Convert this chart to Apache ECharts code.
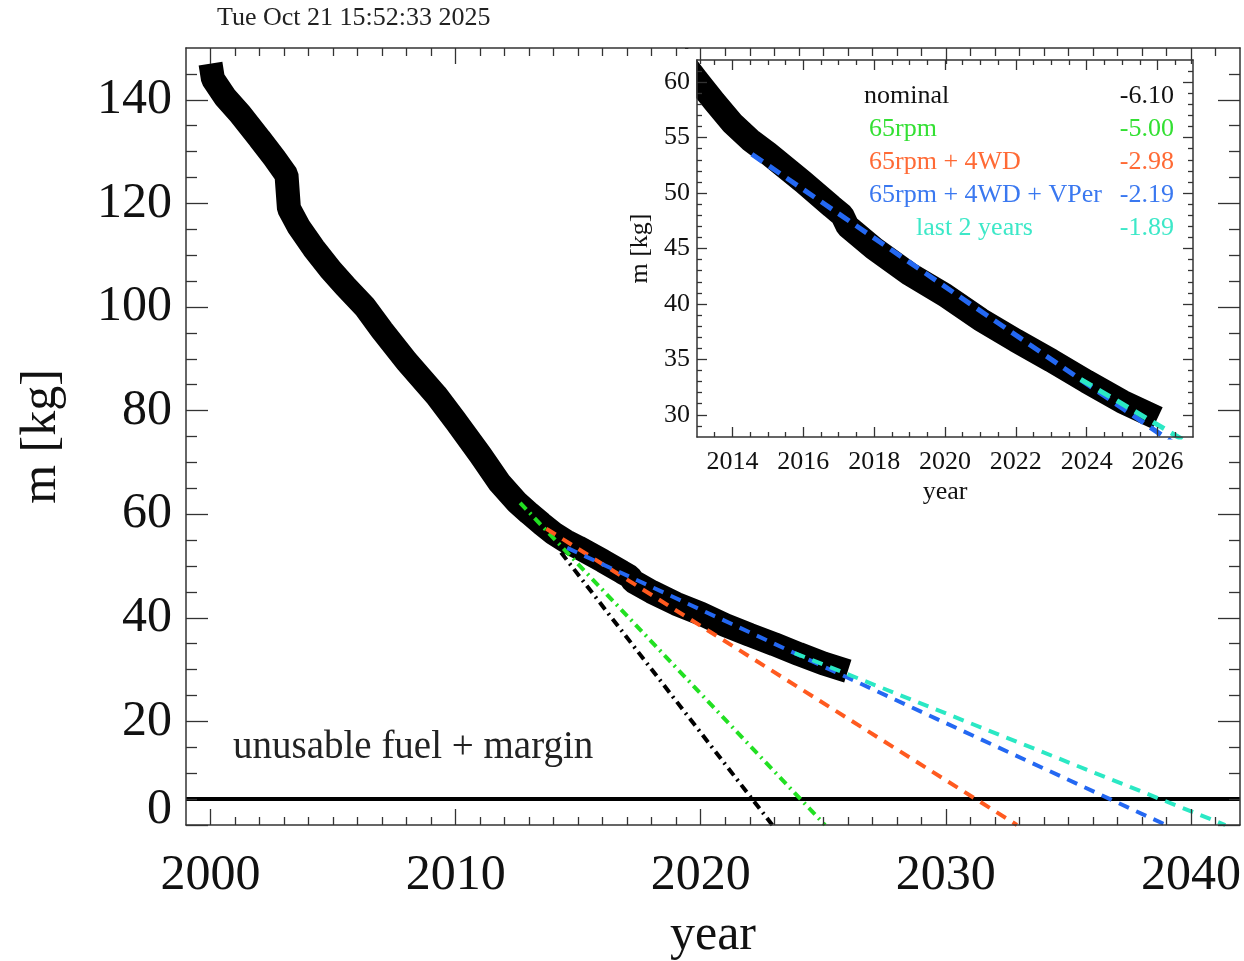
<!DOCTYPE html>
<html><head><meta charset="utf-8">
<script src="https://cdn.jsdelivr.net/npm/echarts@6/dist/echarts.min.js"></script>
<style>html,body{margin:0;padding:0;background:#fff}#c{width:1244px;height:961px}</style>
</head><body><div id="c"></div>
<script>
// ---------- data ----------
const timestamp = 'Tue Oct 21 15:52:33 2025';
const marginLabel = 'unusable fuel + margin';
const marginLevel = 5;
const massData = [
  [2000.0, 147.0], [2000.1, 144.0], [2000.6, 140.5], [2001.2, 137.3], [2002.0, 132.5],
  [2002.6, 128.8], [2003.1, 125.5], [2003.2, 119.0], [2003.6, 115.5], [2004.2, 111.4],
  [2004.9, 107.2], [2005.5, 104.0], [2006.3, 100.0], [2007.0, 95.5], [2008.0, 89.5],
  [2009.2, 83.0], [2010.0, 78.0], [2011.0, 71.5], [2011.8, 66.0], [2012.5, 62.3],
  [2013.0, 60.2], [2013.5, 58.2], [2014.0, 56.3], [2014.5, 54.8], [2015.0, 53.6],
  [2016.0, 51.0], [2016.8, 48.8], [2017.1, 48.0], [2017.25, 47.0], [2018.0, 45.0],
  [2019.0, 42.7], [2020.0, 40.8], [2021.0, 38.6], [2022.0, 36.7], [2023.0, 34.9],
  [2024.0, 33.0], [2025.0, 31.2], [2026.0, 29.7]
];
const nominalFit = [[2014.3, 52.6], [2022.92, 0]];
const rpm65Fit   = [[2012.63, 62.2], [2025.07, 0]];
const wd4Fit     = [[2013.7, 57.2], [2032.9, 0]];
const vperFit    = [[2014.55, 53.5], [2038.98, 0]];
const last2Fit   = [[2023.83, 33.2], [2041.4, 0]];
const legendLabels = ['nominal', '65rpm', '65rpm + 4WD', '65rpm + 4WD + VPer', 'last 2 years'];
const legendRates  = ['-6.10', '-5.00', '-2.98', '-2.19', '-1.89'];

// axes
const mainXRange = [1999, 2042];
const mainYRange = [0, 150];
const mainXTicks = [2000, 2010, 2020, 2030, 2040];
const mainYTicks = [0, 20, 40, 60, 80, 100, 120, 140];
const insetXRange = [2013, 2027];
const insetYRange = [28, 62];
const insetXTicks = [2014, 2016, 2018, 2020, 2022, 2024, 2026];
const insetYTicks = [30, 35, 40, 45, 50, 55, 60];
const mainXMinorStep = 1, mainYMinorStep = 5, insetXMinorStep = 0.5, insetYMinorStep = 1;

// ---------- styles ----------
const FONT = '"Liberation Serif", "Times New Roman", serif';
const AX = '#333';
const C = { nominal: '#000000', rpm65: '#22e022', wd4: '#ff5a1f', vper: '#2468f2', last2: '#2be8c4' };
const legendColors = ['#111111', '#33e033', '#ff6a35', '#3a78f0', '#3de8c8'];
const dashDot = [9, 5, 2, 5];
const dashed = [11, 8];

function minors(range, step, majors) {
  const out = [];
  for (let v = range[0] + step; v < range[1] - 1e-9; v += step) {
    const r = Math.round(v * 1000) / 1000;
    if (!majors.some(m => Math.abs(m - r) < 1e-6)) out.push(r);
  }
  return out;
}

function axes(grid, range, majors, minorVals, majLen, minLen, sides, first) {
  const list = [];
  sides.forEach((side, si) => {
    [true, false].forEach(isMajor => {
      const a = {
        type: 'value', gridIndex: grid, position: side, min: range[0], max: range[1],
        splitLine: { show: false },
        axisLine: { show: isMajor, onZero: false, lineStyle: { color: AX, width: 1.5 } },
        axisTick: { show: true, inside: true, length: isMajor ? majLen : minLen,
          customValues: isMajor ? majors : minorVals, lineStyle: { color: AX, width: 1.3 } },
        axisLabel: { show: false },
        z: 5
      };
      if (si === 0 && isMajor && first) {
        a.axisLabel = Object.assign({ show: true, customValues: majors, fontFamily: FONT, color: '#111',
          formatter: v => String(v) }, first.label);
        if (first.name) Object.assign(a, first.name);
      }
      list.push(a);
    });
  });
  return list;
}

const xAxes = [].concat(
  axes(0, mainXRange, mainXTicks, minors(mainXRange, mainXMinorStep, mainXTicks), 16, 8, ['bottom', 'top'], {
    label: { fontSize: 50, margin: 26 },
    name: { name: 'year', nameLocation: 'middle', nameGap: 86, nameTextStyle: { fontFamily: FONT, fontSize: 50, color: '#111' } }
  }),
  axes(1, insetXRange, insetXTicks, minors(insetXRange, insetXMinorStep, insetXTicks), 10, 5, ['bottom', 'top'], {
    label: { fontSize: 26, margin: 12 },
    name: { name: 'year', nameLocation: 'middle', nameGap: 42, nameTextStyle: { fontFamily: FONT, fontSize: 26, color: '#111' } }
  })
);
const yAxes = [].concat(
  axes(0, mainYRange, mainYTicks, minors(mainYRange, mainYMinorStep, mainYTicks), 22, 11, ['left', 'right'], {
    label: { fontSize: 50, margin: 14,
      formatter: v => v === 0 ? '{z|0}' : String(v),
      rich: { z: { fontFamily: FONT, fontSize: 50, color: '#111', padding: [0, 0, 30, 0] } } },
    name: { name: 'm [kg]', nameLocation: 'middle', nameGap: 119, nameTextStyle: { fontFamily: FONT, fontSize: 50, color: '#111' } }
  }),
  axes(1, insetYRange, insetYTicks, minors(insetYRange, insetYMinorStep, insetYTicks), 10, 5, ['left', 'right'], {
    label: { fontSize: 26, margin: 7 },
    name: { name: 'm [kg]', nameLocation: 'middle', nameGap: 44, nameTextStyle: { fontFamily: FONT, fontSize: 26, color: '#111' } }
  })
);

function line(data, xi, yi, color, width, type, z) {
  return { type: 'line', xAxisIndex: xi, yAxisIndex: yi, data: data, showSymbol: false, symbol: 'none',
    clip: true, silent: true, z: z || 3,
    lineStyle: { color: color, width: width, type: type || 'solid', cap: 'butt', join: 'bevel' } };
}

const series = [
  line(massData, 0, 0, '#000', 24, 'solid', 2),
  line([[mainXRange[0], marginLevel], [mainXRange[1], marginLevel]], 0, 0, '#000', 4, 'solid', 2),
  line(nominalFit, 0, 0, C.nominal, 4, dashDot),
  line(rpm65Fit, 0, 0, C.rpm65, 4, dashDot),
  line(wd4Fit, 0, 0, C.wd4, 4, dashed),
  line(vperFit, 0, 0, C.vper, 4, dashed),
  line(last2Fit, 0, 0, C.last2, 4, dashed),
  line(massData, 4, 4, '#000', 24, 'solid', 2),
  line(vperFit, 4, 4, C.vper, 5, [13, 8]),
  line(last2Fit, 4, 4, C.last2, 5, [13, 8])
];

const graphics = [
  { type: 'text', left: 217, top: 5, style: { text: timestamp, font: '26px ' + FONT, fill: '#222' } },
  { type: 'text', left: 233, top: 728, style: { text: marginLabel, font: '39px ' + FONT, fill: '#222' }, z: 10 },
  // masks that trim the inset band to the inset frame (line clip is padded by half the line width)
  { type: 'rect', shape: { x: 680, y: 49, width: 530, height: 10.3 }, style: { fill: '#fff' }, z: 4 },
  { type: 'rect', shape: { x: 672, y: 49, width: 24.3, height: 110 }, style: { fill: '#fff' }, z: 4 }
];
const legendY = [96, 129, 162, 195, 228];
const legendX = [864, 869, 869, 869, 916];
legendLabels.forEach((t, i) => {
  graphics.push({ type: 'text', x: legendX[i], y: legendY[i], z: 20,
    style: { text: t, font: '26px ' + FONT, fill: legendColors[i], textAlign: 'left', textVerticalAlign: 'middle' } });
  graphics.push({ type: 'text', x: 1174, y: legendY[i], z: 20,
    style: { text: legendRates[i], font: '26px ' + FONT, fill: legendColors[i], textAlign: 'right', textVerticalAlign: 'middle' } });
});

const chart = echarts.init(document.getElementById('c'), null, { renderer: 'canvas' });
chart.setOption({
  animation: false,
  backgroundColor: '#fff',
  grid: [
    { left: 186, top: 48, width: 1054, height: 777, show: false, containLabel: false, outerBoundsMode: 'none' },
    { left: 697, top: 60, width: 496, height: 377, show: true, backgroundColor: '#fff', borderWidth: 0, z: 1,
      containLabel: false, outerBoundsMode: 'none' }
  ],
  xAxis: xAxes,
  yAxis: yAxes,
  series: series,
  graphic: graphics
});
</script></body></html>
